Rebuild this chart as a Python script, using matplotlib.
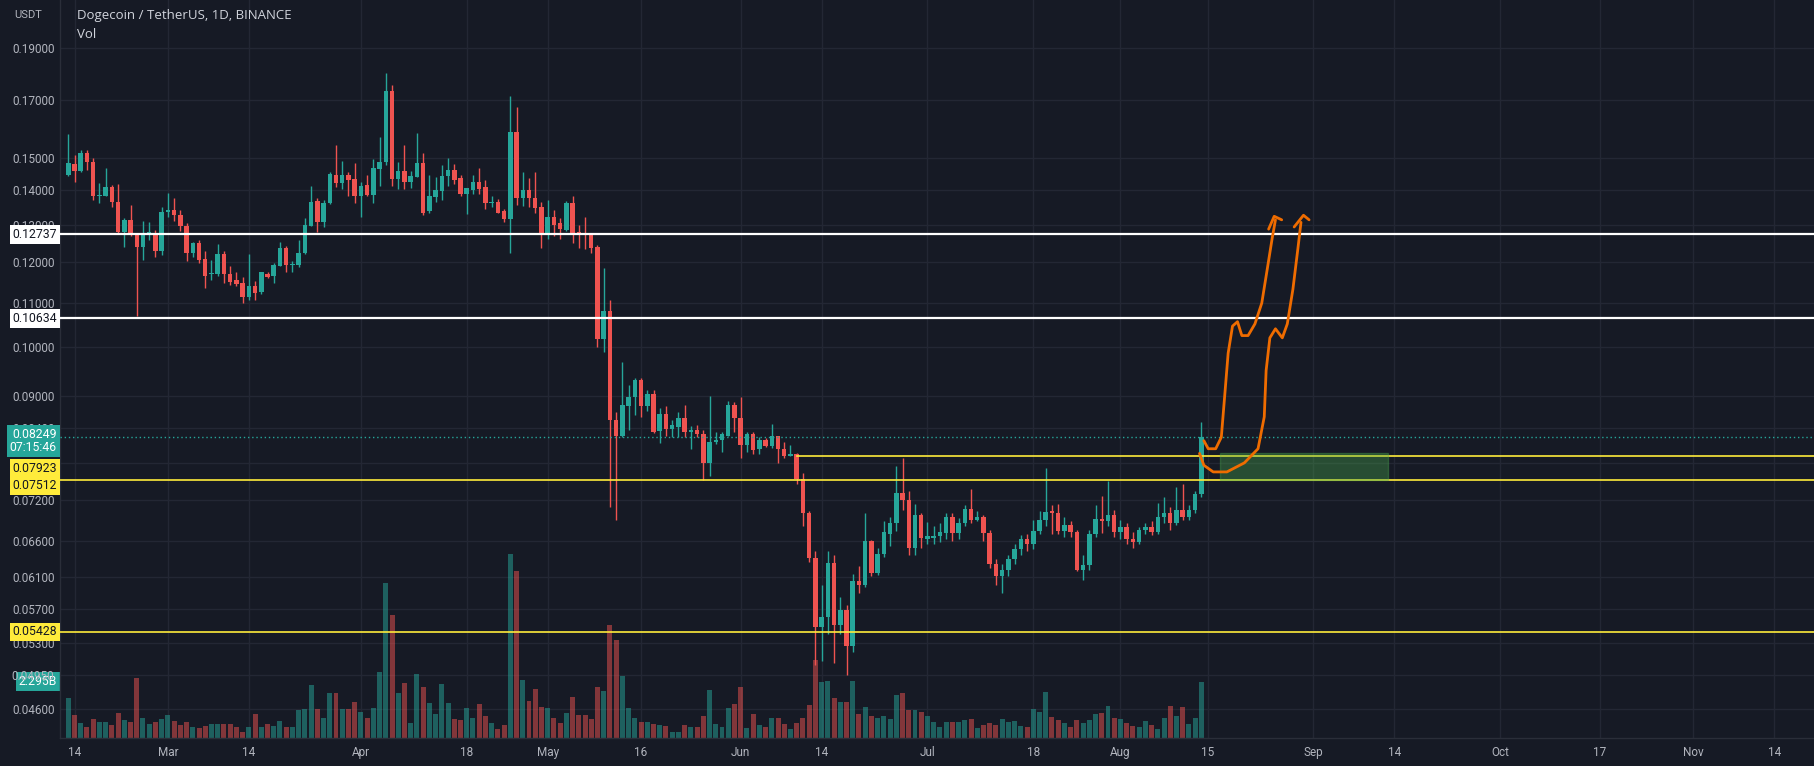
import matplotlib
matplotlib.use('Agg')
import matplotlib.pyplot as plt
import matplotlib.transforms as mtransforms
from matplotlib.patches import Rectangle
import numpy as np
import pandas as pd

plt.rcParams['font.family'] = ['Roboto', 'DejaVu Sans']

# ---- DATA ----
dates = pd.date_range('2022-02-13', '2022-08-14', freq='D')

opens = [
    .1447, .1481, .1459, .1517, .1489, .1382, .1384, .1409, .1366, .1281, .1314, .1277, .1240, .1275, .1277, .1230,
    .1335, .1342, .1329, .1297, .1225, .1251, .1208, .1169, .1171, .1221, .1171, .1155, .1148, .1114, .1140, .1126,
    .1170, .1164, .1191, .1236, .1192, .1193, .1225, .1298, .1369, .1309, .1363, .1447, .1421, .1447, .1433,
    .1382, .1416, .1387, .1465, .1488, .1732, .1434, .1460, .1424, .1442, .1484, .1340, .1380, .1399, .1444, .1462,
    .1436, .1389, .1401, .1426, .1409, .1362, .1366, .1338, .1316, .1586, .1376, .1401, .1376, .1351,
    .1272, .1323, .1304, .1285, .1363, .1280, .1276, .1272, .1239, .1017, .1080, .0856, .0826, .0882, .0898, .0932,
    .0881, .0905, .0835, .0867, .0839, .0843, .0859, .0834, .0837, .0830, .0780, .0815, .0820, .0827, .0884,
    .0859, .0810, .0829, .0803, .0819, .0809, .0826, .0803, .0792, .0795, .0754, .0700, .0636, .0548, .0560, .0629,
    .0551, .0569, .0527, .0605, .0600, .0659, .0616, .0642, .0670, .0686, .0731, .0720, .0650, .0697,
    .0663, .0664, .0666, .0671, .0694, .0671, .0685, .0706, .0690, .0695, .0671, .0628, .0612, .0620, .0635, .0648,
    .0662, .0655, .0674, .0690, .0703, .0701, .0674, .0682, .0673, .0620, .0626, .0670, .0692, .0688, .0697,
    .0672, .0680, .0662, .0658, .0675, .0680, .0673, .0695, .0700, .0685, .0705, .0695, .0705, .0730,
]
highs = [
    .1580, .1510, .1526, .1526, .1499, .1422, .1467, .1416, .1419, .1318, .1356, .1277, .1310, .1307, .1286, .1351,
    .1391, .1376, .1342, .1304, .1254, .1258, .1228, .1206, .1248, .1228, .1190, .1174, .1163, .1220, .1152, .1176,
    .1174, .1197, .1254, .1242, .1202, .1258, .1319, .1413, .1376, .1371, .1457, .1543, .1492, .1457, .1484,
    .1426, .1447, .1496, .1571, .1799, .1753, .1486, .1543, .1460, .1583, .1517, .1447, .1441, .1478, .1499, .1481,
    .1447, .1406, .1447, .1467, .1431, .1382, .1373, .1345, .1713, .1674, .1457, .1436, .1455, .1366,
    .1371, .1342, .1319, .1369, .1382, .1300, .1323, .1278, .1246, .1186, .1106, .0870, .0968, .0922, .0936, .0936,
    .0912, .0912, .0878, .0882, .0855, .0870, .0884, .0844, .0846, .0837, .0900, .0834, .0834, .0890, .0888,
    .0899, .0834, .0833, .0825, .0822, .0848, .0826, .0815, .0810, .0797, .0764, .0703, .0645, .0600, .0645, .0640,
    .0585, .0575, .0615, .0625, .0701, .0661, .0650, .0688, .0695, .0775, .0789, .0735, .0714, .0700,
    .0687, .0681, .0686, .0700, .0700, .0693, .0712, .0737, .0703, .0697, .0675, .0635, .0628, .0640, .0655, .0668,
    .0670, .0690, .0703, .0772, .0712, .0714, .0695, .0688, .0676, .0640, .0676, .0712, .0727, .0751, .0705,
    .0690, .0685, .0672, .0680, .0686, .0688, .0715, .0725, .0710, .0740, .0745, .0712, .0735, .0852,
]
lows = [
    .1443, .1425, .1455, .1462, .1371, .1362, .1382, .1352, .1277, .1240, .1269, .1068, .1206, .1258, .1214, .1219,
    .1323, .1310, .1283, .1202, .1214, .1198, .1135, .1155, .1166, .1147, .1143, .1140, .1100, .1106, .1106, .1121,
    .1160, .1147, .1189, .1176, .1176, .1187, .1222, .1297, .1280, .1294, .1360, .1409, .1403, .1382, .1361,
    .1323, .1382, .1362, .1413, .1478, .1413, .1403, .1403, .1406, .1439, .1328, .1333, .1366, .1371, .1413, .1419,
    .1382, .1330, .1389, .1389, .1344, .1352, .1333, .1309, .1225, .1356, .1354, .1352, .1333, .1236,
    .1262, .1270, .1261, .1283, .1249, .1236, .1233, .1225, .1000, .0990, .0709, .0690, .0824, .0837, .0864, .0860,
    .0871, .0832, .0814, .0826, .0824, .0824, .0824, .0803, .0824, .0752, .0758, .0812, .0799, .0826, .0834,
    .0788, .0799, .0795, .0795, .0807, .0805, .0780, .0788, .0791, .0745, .0681, .0630, .0505, .0510, .0540, .0508,
    .0540, .0495, .0520, .0590, .0598, .0612, .0613, .0638, .0652, .0674, .0705, .0640, .0640, .0650,
    .0655, .0655, .0658, .0662, .0660, .0662, .0681, .0685, .0688, .0660, .0622, .0600, .0590, .0612, .0628, .0640,
    .0645, .0648, .0670, .0681, .0670, .0670, .0665, .0665, .0618, .0606, .0620, .0665, .0671, .0681, .0665,
    .0662, .0655, .0650, .0655, .0670, .0668, .0670, .0685, .0675, .0682, .0690, .0690, .0700, .0725,
]
closes = [
    .1484, .1459, .1515, .1486, .1382, .1387, .1409, .1366, .1279, .1314, .1275, .1240, .1277, .1278, .1228, .1336,
    .1342, .1328, .1296, .1225, .1251, .1206, .1165, .1173, .1221, .1171, .1151, .1145, .1113, .1140, .1124, .1174,
    .1163, .1193, .1236, .1193, .1195, .1225, .1300, .1366, .1307, .1363, .1449, .1421, .1447, .1432, .1382,
    .1413, .1387, .1467, .1486, .1732, .1434, .1460, .1424, .1444, .1484, .1333, .1382, .1401, .1444, .1462, .1431,
    .1389, .1406, .1426, .1403, .1361, .1366, .1334, .1316, .1586, .1376, .1401, .1376, .1347, .1272,
    .1323, .1299, .1288, .1363, .1277, .1276, .1272, .1236, .1017, .1080, .0856, .0826, .0884, .0898, .0932, .0881,
    .0905, .0834, .0867, .0839, .0846, .0859, .0834, .0837, .0829, .0780, .0815, .0819, .0829, .0884, .0859,
    .0810, .0829, .0802, .0819, .0809, .0826, .0803, .0792, .0794, .0754, .0700, .0636, .0548, .0560, .0629, .0551,
    .0569, .0527, .0605, .0600, .0659, .0616, .0642, .0673, .0686, .0731, .0720, .0650, .0697, .0664,
    .0666, .0667, .0673, .0694, .0671, .0685, .0706, .0690, .0695, .0671, .0628, .0612, .0620, .0635, .0648, .0662,
    .0655, .0674, .0690, .0702, .0700, .0674, .0682, .0673, .0620, .0626, .0670, .0692, .0688, .0697, .0672,
    .0680, .0662, .0658, .0675, .0680, .0673, .0695, .0700, .0685, .0705, .0695, .0705, .0730, .08249,
]
# volume in billions of DOGE
volumes = [
    1.61, 0.93, 0.61, 0.43, 0.77, 0.66, 0.66, 0.53, 1.00, 0.73, 0.66, 2.43, 0.80, 0.57, 0.66, 0.77,
    0.93, 0.70, 0.53, 0.66, 0.43, 0.39, 0.49, 0.57, 0.57, 0.57, 0.57, 0.43, 0.26, 0.43, 0.98, 0.43,
    0.57, 0.49, 0.70, 0.43, 0.43, 1.14, 1.18, 2.15, 1.18, 0.83, 1.84, 1.84, 1.18, 1.18, 1.46,
    1.07, 0.80, 1.20, 2.67, 6.30, 5.00, 1.84, 2.22, 0.61, 2.60, 2.06, 1.41, 0.98, 2.19, 1.41, 0.77,
    0.73, 1.20, 0.80, 1.38, 0.89, 0.62, 0.35, 0.53, 7.50, 6.80, 2.36, 1.52, 1.98, 1.27,
    1.20, 0.80, 0.62, 1.03, 1.65, 0.93, 0.93, 0.76, 2.06, 1.92, 4.60, 4.00, 2.52, 1.20, 0.80, 0.66,
    0.66, 0.57, 0.53, 0.49, 0.26, 0.26, 0.53, 0.43, 0.46, 0.89, 1.95, 0.57, 0.43, 1.20, 1.38,
    2.09, 0.39, 0.98, 0.53, 0.43, 0.80, 0.80, 0.57, 0.35, 0.60, 0.80, 1.34, 3.17, 2.29, 2.32, 1.61,
    1.48, 1.48, 2.33, 0.98, 1.27, 0.89, 0.80, 0.89, 0.77, 1.75, 1.84, 1.14, 1.14, 1.04,
    0.89, 0.66, 0.43, 0.66, 0.66, 0.66, 0.73, 0.77, 0.39, 0.53, 0.60, 0.53, 0.77, 0.66, 0.69, 0.49,
    0.43, 1.18, 1.07, 1.88, 0.84, 0.73, 0.62, 0.43, 0.73, 0.60, 0.73, 0.98, 1.03, 1.32, 0.80,
    0.76, 0.60, 0.49, 0.43, 0.70, 0.53, 0.35, 0.83, 1.32, 0.89, 1.25, 0.57, 0.83, 2.295,
]

price_ticks = [0.19, 0.17, 0.15, 0.14, 0.13, 0.12, 0.11, 0.10, 0.09, 0.084, 0.078,
               0.072, 0.066, 0.061, 0.057, 0.053, 0.0495, 0.046]
date_ticks = ['2022-02-14', '2022-03-01', '2022-03-14', '2022-04-01', '2022-04-18',
              '2022-05-01', '2022-05-16', '2022-06-01', '2022-06-14', '2022-07-01',
              '2022-07-18', '2022-08-01', '2022-08-15', '2022-09-01', '2022-09-14',
              '2022-10-01', '2022-10-17', '2022-11-01', '2022-11-14']
date_labels = ['14', 'Mar', '14', 'Apr', '18', 'May', '16', 'Jun', '14', 'Jul',
               '18', 'Aug', '15', 'Sep', '14', 'Oct', '17', 'Nov', '14']

white_levels = [0.12737, 0.10634]
yellow_levels = [0.07923, 0.07512, 0.05428]
yellow_starts = ['2022-06-10', None, None]
last_price = 0.08249
countdown = '07:15:46'
last_volume_label = '2.295B'

zone_dates = ['2022-08-17', '2022-09-13']
zone_prices = [0.07512, 0.0797]

# hand drawn path (day offset from first date, price)
path_inner_x = [182.4, 183.1, 184.3, 185.2, 185.7, 186.3, 187.0, 187.8, 188.5, 189.5, 190.6, 191.7, 192.6, 193.4, 193.9]
path_inner_y = [0.0818, 0.0804, 0.0804, 0.0824, 0.0894, 0.0987, 0.1046, 0.1056, 0.1025, 0.1025, 0.1051, 0.1099, 0.1184, 0.1266, 0.1314]
path_outer_x = [181.7, 182.4, 183.9, 186.1, 188.9, 191.1, 192.1, 192.4, 193.0, 193.9, 195.0, 195.8, 196.7, 197.5, 198.0]
path_outer_y = [0.0796, 0.0776, 0.0765, 0.0765, 0.0780, 0.0804, 0.0861, 0.0951, 0.1020, 0.1040, 0.1020, 0.1051, 0.1132, 0.1235, 0.1307]
head_inner_x = [192.8, 193.7, 194.9]
head_inner_y = [0.1288, 0.1324, 0.1314]
head_outer_x = [196.9, 198.4, 199.3]
head_outer_y = [0.1294, 0.1327, 0.1314]

# ---- STYLE ----
BG = '#161a25'
GRID = '#232734'
TEXT = '#b2b5be'
UP = '#26a69a'
DOWN = '#ef5350'
YELLOW = '#ffeb3b'
ORANGE = '#ef6c00'

W, H = 1814, 766
fig = plt.figure(figsize=(W / 100, H / 100), dpi=100)
fig.patch.set_facecolor(BG)
rect = [60 / W, 28 / H, (W - 60) / W, 738 / H]

axv = fig.add_axes(rect)
ax = fig.add_axes(rect, sharex=axv)
axv.set_facecolor(BG)
ax.set_facecolor('none')

x = np.arange(len(dates))
o = np.array(opens); h = np.array(highs); l = np.array(lows); c = np.array(closes)
up = c >= o
colors = np.where(up, UP, DOWN)

ax.set_yscale('log')
ax.set_ylim(0.04322, 0.2106)
ax.set_xlim(-1.33, 280.4)
axv.set_ylim(0, 30.0)

# grid (drawn in the volume axes so it sits under everything)
grid_tr = mtransforms.blended_transform_factory(axv.transAxes, ax.transData)
for p in price_ticks:
    axv.plot([0, 1], [p, p], color=GRID, lw=1, transform=grid_tr, zorder=0)
tick_x = [(pd.Timestamp(d) - dates[0]).days for d in date_ticks]
for tx in tick_x:
    axv.axvline(tx, color=GRID, lw=1, zorder=0)

# volume
axv.bar(x, volumes, width=0.8, color=colors, alpha=0.5, zorder=1)
axv.set_yticks([])
axv.tick_params(axis='x', length=0, labelbottom=False)
for s in axv.spines.values():
    s.set_visible(False)

# candles
ax.vlines(x, l, h, colors=colors, lw=1, zorder=3)
body_low = np.minimum(o, c)
body_h = np.maximum(np.abs(c - o), body_low * 0.003)
ax.bar(x, body_h, bottom=body_low, width=0.72, color=colors, zorder=4)

# levels
for lv in white_levels:
    ax.axhline(lv, color='white', lw=1.6, zorder=5)
for lv, st in zip(yellow_levels, yellow_starts):
    if st is None:
        ax.axhline(lv, color=YELLOW, lw=1.2, zorder=5)
    else:
        sx = (pd.Timestamp(st) - dates[0]).days
        ax.plot([sx, 300], [lv, lv], color=YELLOW, lw=1.2, zorder=5)
ax.axhline(last_price, color=UP, lw=1, ls=(0, (1, 2)), zorder=5)

# target zone
zx0 = (pd.Timestamp(zone_dates[0]) - dates[0]).days
zx1 = (pd.Timestamp(zone_dates[1]) - dates[0]).days
ax.add_patch(Rectangle((zx0, zone_prices[0]), zx1 - zx0, zone_prices[1] - zone_prices[0],
                       facecolor='#4caf50', alpha=0.35, edgecolor='#4caf50', lw=1, zorder=5))

# drawing
for px, py in [(path_inner_x, path_inner_y), (path_outer_x, path_outer_y),
               (head_inner_x, head_inner_y), (head_outer_x, head_outer_y)]:
    ax.plot(px, py, color=ORANGE, lw=2, solid_capstyle='round', solid_joinstyle='round', zorder=6)

# axes
ax.set_yticks(price_ticks)
ax.set_yticklabels([f'{p:.5f}' for p in price_ticks])
ax.yaxis.set_minor_locator(matplotlib.ticker.NullLocator())
ax.set_xticks(tick_x)
ax.set_xticklabels(date_labels)
ax.tick_params(axis='y', length=0, pad=4, labelsize=8.5, labelcolor=TEXT)
ax.tick_params(axis='x', length=0, pad=6, labelsize=8.5, labelcolor=TEXT)
for side in ['top', 'right']:
    ax.spines[side].set_visible(False)
for side in ['left', 'bottom']:
    ax.spines[side].set_color('#2a2e39')
    ax.spines[side].set_linewidth(1)

# price labels on the axis (shifted in pixels where TradingView stacks them)
lab_tr = mtransforms.blended_transform_factory(fig.transFigure, ax.transData)
lx = 57 / W


def axis_label(y, text, fc, tc, dy=0, ls=1.0):
    tr = mtransforms.offset_copy(lab_tr, fig=fig, y=dy, units='dots')
    ax.text(lx, y, text, transform=tr, ha='right', va='center', fontsize=8.8,
            color=tc, clip_on=False, zorder=20, linespacing=ls,
            bbox=dict(boxstyle='square,pad=0.22', fc=fc, ec='none'))


for lv in white_levels:
    axis_label(lv, f'{lv:.5f}', 'white', '#131722')
axis_label(yellow_levels[0], f'{yellow_levels[0]:.5f}', YELLOW, '#131722', dy=-13)
axis_label(yellow_levels[1], f'{yellow_levels[1]:.5f}', YELLOW, '#131722', dy=-5)
axis_label(yellow_levels[2], f'{yellow_levels[2]:.5f}', YELLOW, '#131722')
axis_label(last_price, f'{last_price:.5f}\n{countdown}', UP, 'white', dy=-4, ls=1.05)

vol_tr = mtransforms.blended_transform_factory(fig.transFigure, axv.transData)
axv.text(lx, volumes[-1], last_volume_label, transform=vol_tr, ha='right', va='center',
         fontsize=8.8, color='white', clip_on=False, zorder=21,
         bbox=dict(boxstyle='square,pad=0.22', fc=UP, ec='none'))

# header
fig.text(14 / W, 1 - 15 / H, 'USDT', color=TEXT, fontsize=8, va='center', ha='left')
fig.text(77 / W, 1 - 16 / H, 'Dogecoin / TetherUS, 1D, BINANCE', color='#d1d4dc',
         fontsize=9.5, va='center', ha='left', family=['Open Sans', 'DejaVu Sans'])
fig.text(77 / W, 1 - 34 / H, 'Vol', color='#d1d4dc', fontsize=9.5, va='center', ha='left',
         family=['Open Sans', 'DejaVu Sans'])

fig.savefig('out.png', dpi=100, facecolor=BG)
